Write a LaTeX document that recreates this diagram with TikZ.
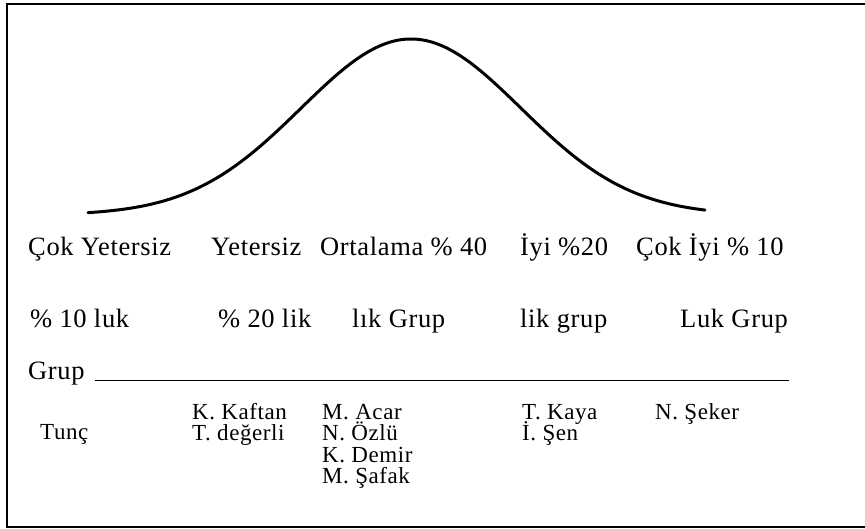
\documentclass[tikz,border=0pt]{standalone}
\usepackage{fontspec}
\setmainfont{Liberation Serif}
\newfontfamily\spacedfont[LetterSpace=2.5]{Liberation Serif}
\usetikzlibrary{positioning,calc}

\newcommand{\hfont}{\spacedfont\fontsize{26.5}{30}\selectfont}
\newcommand{\nfont}{\spacedfont\fontsize{23}{26}\selectfont}

\begin{document}
\begin{tikzpicture}[x=1pt, y=-1pt,
    lbl/.style={anchor=base west, inner sep=0pt, font=\hfont},
    nm/.style={anchor=base west, inner sep=0pt, font=\nfont}]
    \useasboundingbox (0,0) rectangle (865,529);
    % frame, open on the right
    \draw[line width=2pt] (865,4) -- (7,4) -- (7,527) -- (865,527);
    % bell curve
    \draw[line width=3pt, line cap=round]
      plot[domain=88:705, samples=150, smooth]
      (\x, {215 - 176*exp(-0.5*((\x-411)/110)*((\x-411)/110))});
    % group headings
    \node[lbl] (cy) at (28,256) {Çok Yetersiz};
    \node[lbl] (y) at (211,256) {Yetersiz};
    \node[lbl] (o) at (320,256) {Ortalama \% 40};
    \node[lbl] (i) at (520,256) {İyi \%20};
    \node[lbl] (ci) at (636,256) {Çok İyi \% 10};
    \node[lbl] (cyp) at (30,327) {\% 10 luk};
    \node[lbl] (yp) at (218,327) {\% 20 lik};
    \node[lbl] (op) at (352,327) {lık Grup};
    \node[lbl] (ip) at (520,327) {lik grup};
    \node[lbl] (cip) at (680,327) {Luk Grup};
    \node[lbl] (grup) at (28,380) {Grup};
    \coordinate (lineend) at (789,380);
    \draw[line width=1pt] ([xshift=10pt]grup.base east) -- (lineend);
    % students
    \node[nm] (tunc) at (40,439) {Tunç};
    \node[nm] (kk) at (192,419) {K. Kaftan};
    \node[nm] (td) at ($(kk.base west)+(0,21.5)$) {T. değerli};
    \node[nm] (ma) at (322,419) {M. Acar};
    \node[nm] (no) at ($(ma.base west)+(0,21.5)$) {N. Özlü};
    \node[nm] (kd) at ($(no.base west)+(0,21.5)$) {K. Demir};
    \node[nm] (ms) at ($(kd.base west)+(0,21.5)$) {M. Şafak};
    \node[nm] (tk) at (522,419) {T. Kaya};
    \node[nm] (is) at ($(tk.base west)+(0,21.5)$) {İ. Şen};
    \node[nm] (ns) at (655,419) {N. Şeker};
\end{tikzpicture}
\end{document}
